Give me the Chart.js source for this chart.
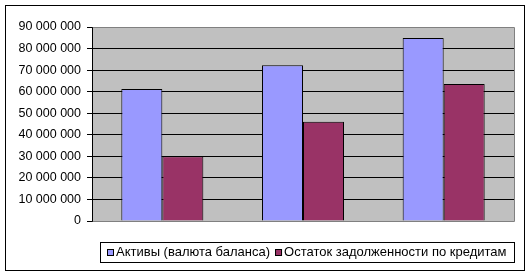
<!DOCTYPE html>
<html>
<head>
<meta charset="utf-8">
<script src="https://cdn.jsdelivr.net/npm/chart.js@4.4.0/dist/chart.umd.min.js"></script>
<style>
  html, body { margin: 0; padding: 0; background: #fff; }
  #wrap { position: relative; width: 531px; height: 277px; }
  #frame { position: absolute; left: 5px; top: 5px; width: 518px; height: 264px; border: 1px solid #000; box-sizing: content-box; pointer-events: none; }
  canvas { position: absolute; left: 0; top: 0; }
</style>
</head>
<body>
<div id="wrap">
  <canvas id="c" width="531" height="277"></canvas>
  <div id="frame"></div>
</div>
<script>
const categories = ['1', '2', '3'];
const seriesNames = ['Активы (валюта баланса)', 'Остаток задолженности по кредитам'];
const assets = [61200000, 72300000, 84900000];
const loans = [30000000, 46000000, 63500000];
const yTicks = [0, 10000000, 20000000, 30000000, 40000000, 50000000, 60000000, 70000000, 80000000, 90000000];

const FONT = '"Liberation Sans", Arial, sans-serif';

function fmt(v) {
  return String(v).replace(/\B(?=(\d{3})+(?!\d))/g, ' ');
}

const plotPlugin = {
  id: 'plotDeco',
  beforeDraw(chart) {
    const a = chart.chartArea, ctx = chart.ctx;
    ctx.save();
    ctx.fillStyle = '#C0C0C0';
    ctx.fillRect(a.left, a.top, a.right - a.left, a.bottom - a.top);
    ctx.restore();
  },
  afterDatasetsDraw(chart) {
    const a = chart.chartArea, ctx = chart.ctx;
    const L = Math.round(a.left) + 0.5, R = Math.round(a.right) + 0.5;
    const T = Math.round(a.top) + 0.5, B = Math.round(a.bottom) + 0.5;
    ctx.save();
    ctx.lineWidth = 1;
    ctx.strokeStyle = '#808080';
    ctx.beginPath();
    ctx.moveTo(L, T); ctx.lineTo(R, T); ctx.lineTo(R, B); ctx.lineTo(L, B);
    ctx.stroke();
    ctx.strokeStyle = '#000';
    ctx.beginPath();
    ctx.moveTo(L, T); ctx.lineTo(L, B);
    ctx.stroke();
    ctx.restore();
  },
  afterDraw(chart) {
    const ctx = chart.ctx;
    const box = { left: 100, top: 242, right: 514, bottom: 262 };
    ctx.save();
    ctx.font = '13px ' + FONT;
    ctx.textBaseline = 'middle';
    ctx.textAlign = 'left';
    const sq = 7, gapText = 2, gapItem = 5;
    const items = chart.data.datasets.map(ds => ({ text: ds.label, color: ds.backgroundColor, w: ctx.measureText(ds.label).width }));
    let total = 0;
    items.forEach((it, i) => { total += sq + gapText + it.w + (i ? gapItem : 0); });
    let x = Math.round((box.left + box.right) / 2 - total / 2);
    const cy = (box.top + box.bottom) / 2 + 0.5;
    ctx.lineWidth = 1;
    ctx.strokeStyle = '#000';
    ctx.strokeRect(box.left + 0.5, box.top + 0.5, box.right - box.left, box.bottom - box.top);
    items.forEach((it, i) => {
      if (i) x += gapItem;
      const sy = Math.round(cy - sq / 2);
      ctx.fillStyle = it.color;
      ctx.fillRect(x, sy, sq, sq);
      ctx.strokeStyle = '#000';
      ctx.strokeRect(x + 0.5, sy + 0.5, sq - 1, sq - 1);
      x += sq + gapText;
      ctx.fillStyle = '#000';
      ctx.fillText(it.text, x, cy);
      x += it.w;
    });
    ctx.restore();
  }
};

new Chart(document.getElementById('c'), {
  type: 'bar',
  data: {
    labels: categories,
    datasets: [
      { label: seriesNames[0], data: assets, backgroundColor: '#9999FF', borderColor: '#000', borderWidth: 1 },
      { label: seriesNames[1], data: loans, backgroundColor: '#993366', borderColor: '#000', borderWidth: 1 }
    ]
  },
  options: {
    responsive: false,
    animation: false,
    devicePixelRatio: 1,
    layout: { padding: { left: 0, top: 27, right: 17, bottom: 56 } },
    plugins: { legend: { display: false }, tooltip: { enabled: false } },
    datasets: { bar: { categoryPercentage: 0.583, barPercentage: 1.0 } },
    scales: {
      x: {
        display: true,
        grid: { display: false, drawTicks: false },
        border: { display: false },
        ticks: { display: false }
      },
      y: {
        min: 0,
        max: 90000000,
        afterFit(scale) { scale.width = 92; },
        afterBuildTicks(scale) { scale.ticks = yTicks.map(v => ({ value: v })); },
        grid: { color: '#000', tickColor: '#000', tickLength: 5, lineWidth: 1 },
        border: { display: true, color: '#000' },
        ticks: {
          padding: 6,
          color: '#000',
          font: { family: FONT, size: 12.5 },
          callback: (v) => fmt(v)
        }
      }
    }
  },
  plugins: [plotPlugin]
});
</script>
</body>
</html>
